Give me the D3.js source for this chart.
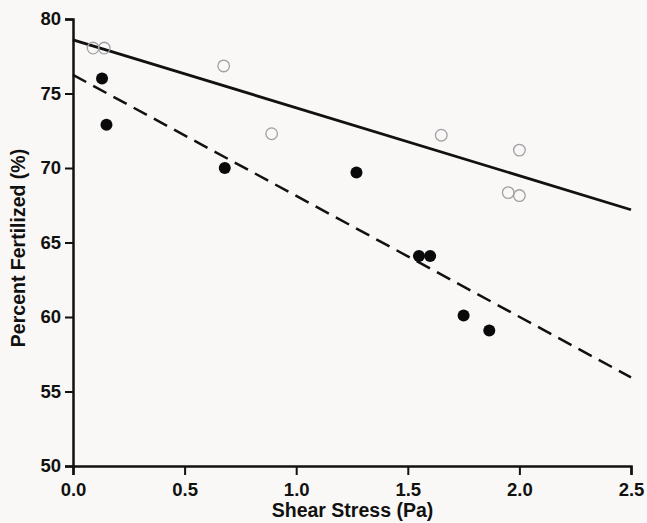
<!DOCTYPE html>
<html>
<head>
<meta charset="utf-8">
<script src="https://cdn.jsdelivr.net/npm/d3@7"></script>
<style>
  body { margin: 0; background: #faf8f6; }
  text { font-family: "Liberation Sans", Arial, sans-serif; font-weight: bold; }
</style>
</head>
<body>
<div id="chart"></div>
<script>
// data
var filledX = [0.13, 0.15, 0.68, 1.27, 1.55, 1.60, 1.75, 1.865];
var filledY = [76.0, 72.9, 70.0, 69.7, 64.1, 64.1, 60.1, 59.1];
var openX = [0.09, 0.14, 0.675, 0.89, 1.65, 2.0, 1.95, 2.0];
var openY = [78.05, 78.05, 76.85, 72.3, 72.2, 71.2, 68.35, 68.15];
// fitted lines (endpoints)
var solidFitX = [0, 2.5];
var solidFitY = [78.6, 67.2];
var dashFitX = [0, 2.5];
var dashFitY = [76.25, 55.95];
var xTicks = [0, 0.5, 1.0, 1.5, 2.0, 2.5];
var yTicks = [50, 55, 60, 65, 70, 75, 80];

// set the dimensions and margins of the graph
var margin = {top: 19, right: 15, bottom: 56, left: 73},
    width = 647 - margin.left - margin.right,
    height = 523 - margin.top - margin.bottom;

var svg = d3.select("#chart")
  .append("svg")
    .attr("width", 647)
    .attr("height", 523)
  .append("g")
    .attr("transform", "translate(" + margin.left + "," + margin.top + ")");

var x = d3.scaleLinear().domain([0, 2.5]).range([0, width - 1]);
var y = d3.scaleLinear().domain([50, 80]).range([height - 1, 0]);

// X axis
var xAxis = svg.append("g")
  .attr("transform", "translate(0," + y(50) + ")")
  .call(d3.axisBottom(x).tickValues(xTicks).tickFormat(d3.format(".1f")).tickSize(9).tickPadding(8));
// Y axis
var yAxis = svg.append("g")
  .call(d3.axisLeft(y).tickValues(yTicks).tickSize(8).tickPadding(4));

[xAxis, yAxis].forEach(function(a) {
  a.select(".domain").attr("stroke", "#111").attr("stroke-width", 2.5);
  a.selectAll(".tick line").attr("stroke", "#111").attr("stroke-width", 2);
  a.selectAll(".tick text")
    .style("font-size", "18.5px")
    .style("font-weight", "bold")
    .style("font-family", "'Liberation Sans', Arial, sans-serif")
    .attr("fill", "#111");
});

// axis titles
svg.append("text")
  .attr("x", width / 2)
  .attr("y", height + 50)
  .attr("text-anchor", "middle")
  .style("font-size", "19.5px")
  .attr("fill", "#111")
  .text("Shear Stress (Pa)");

svg.append("text")
  .attr("transform", "rotate(-90)")
  .attr("x", -229)
  .attr("y", -48)
  .attr("text-anchor", "middle")
  .style("font-size", "19.5px")
  .attr("fill", "#111")
  .text("Percent Fertilized (%)");

// fit lines
var line = d3.line()
  .x(function(d) { return x(d[0]); })
  .y(function(d) { return y(d[1]); });

svg.append("path")
  .datum(d3.zip(solidFitX, solidFitY))
  .attr("d", line)
  .attr("fill", "none")
  .attr("stroke", "#111")
  .attr("stroke-width", 2.8);

svg.append("path")
  .datum(d3.zip(dashFitX, dashFitY))
  .attr("d", line)
  .attr("fill", "none")
  .attr("stroke", "#111")
  .attr("stroke-width", 2.5)
  .attr("stroke-dasharray", "15,8");

// open dots
svg.append("g")
  .selectAll("circle")
  .data(d3.zip(openX, openY))
  .enter()
  .append("circle")
    .attr("cx", function(d) { return x(d[0]); })
    .attr("cy", function(d) { return y(d[1]); })
    .attr("r", 5.8)
    .attr("fill", "none")
    .attr("stroke", "#a0a0a4")
    .attr("stroke-width", 1.3);

// filled dots
svg.append("g")
  .selectAll("circle")
  .data(d3.zip(filledX, filledY))
  .enter()
  .append("circle")
    .attr("cx", function(d) { return x(d[0]); })
    .attr("cy", function(d) { return y(d[1]); })
    .attr("r", 6)
    .attr("fill", "#0a0a0a");
</script>
</body>
</html>
